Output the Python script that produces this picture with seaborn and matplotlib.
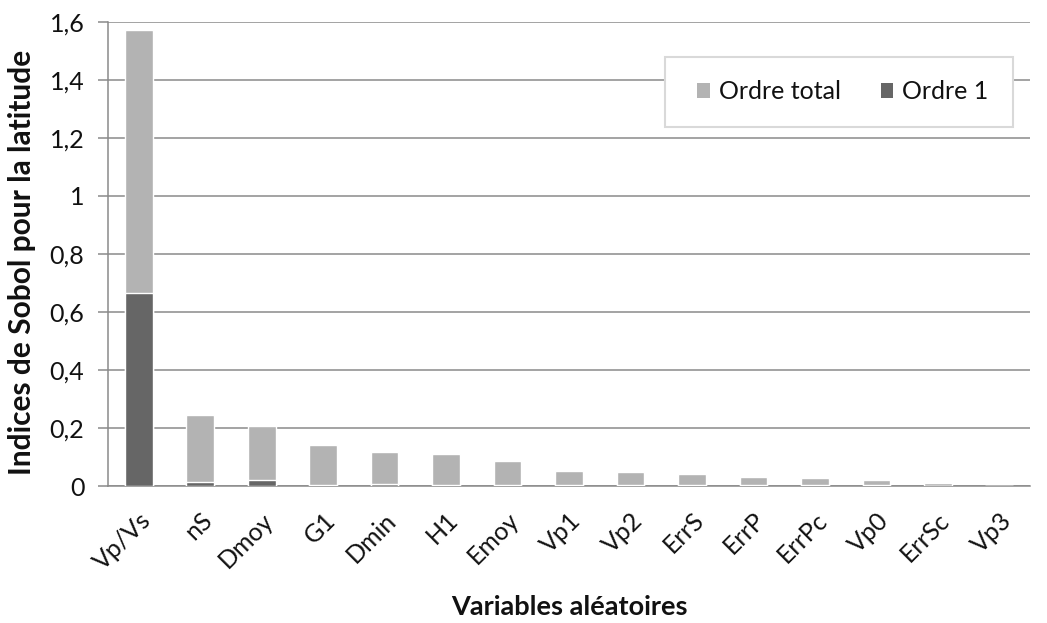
import matplotlib
matplotlib.use("Agg")
import matplotlib.pyplot as plt
import seaborn as sns
import pandas as pd
import numpy as np
from matplotlib.patches import Patch, Rectangle

categories = ["Vp/Vs", "nS", "Dmoy", "G1", "Dmin", "H1", "Emoy", "Vp1", "Vp2",
              "ErrS", "ErrP", "ErrPc", "Vp0", "ErrSc", "Vp3"]
ordre_1 = [0.665, 0.013, 0.021, 0.002, 0.006, 0.004, 0.002, 0.002, 0.004,
           0.005, 0.002, 0.005, 0.002, 0.001, 0.0005]
ordre_total = [0.905, 0.231, 0.185, 0.139, 0.111, 0.106, 0.083, 0.049, 0.045,
               0.036, 0.029, 0.021, 0.020, 0.008, 0.001]
y_ticks = [0, 0.2, 0.4, 0.6, 0.8, 1.0, 1.2, 1.4, 1.6]
y_tick_labels = ["0", "0,2", "0,4", "0,6", "0,8", "1", "1,2", "1,4", "1,6"]

light = "#b3b3b3"
dark = "#666666"
grid_c = "#8a8a8a"
txt_c = "#111111"

sns.set_theme(style="white")
plt.rcParams["font.family"] = ["Lato", "DejaVu Sans"]

df = pd.DataFrame({"cat": categories,
                   "o1": ordre_1,
                   "tot": ordre_total})
df["stack"] = df["o1"] + df["tot"]

fig = plt.figure(figsize=(10.47, 6.23), dpi=100)
ax = fig.add_axes([0.1032, 0.2199, 0.8806, 0.7453])

sns.barplot(data=df, x="cat", y="stack", color=light, saturation=1,
            width=0.45, edgecolor="white", linewidth=1.0, ax=ax, zorder=3)
sns.barplot(data=df, x="cat", y="o1", color=dark, saturation=1,
            width=0.45, edgecolor="white", linewidth=1.0, ax=ax, zorder=4)

ax.set_ylim(0, 1.6)
ax.set_xlim(-0.5, len(categories) - 0.5)
ax.set_yticks(y_ticks)
ax.set_yticklabels(y_tick_labels, fontsize=18, color=txt_c)
ax.set_xticks(range(len(categories)))
ax.set_xticklabels(categories, fontsize=18, rotation=45, ha="right",
                   rotation_mode="anchor", color=txt_c)

ax.yaxis.grid(True, color=grid_c, linewidth=1.1, zorder=0)
ax.set_axisbelow(True)
for s in ["top", "right"]:
    ax.spines[s].set_visible(False)
for s in ["left", "bottom"]:
    ax.spines[s].set_color(grid_c)
    ax.spines[s].set_linewidth(1.1)

ax.tick_params(axis="y", which="major", length=7, width=1.1, color=grid_c,
               direction="out", pad=10, left=True)
ax.tick_params(axis="x", length=0, pad=16)

ax.set_ylabel("Indices de Sobol pour la latitude", fontsize=21.5,
              fontweight="bold", color=txt_c, va="center", ha="center")
ax.yaxis.set_label_coords(-0.0933, 0.481)
ax.set_xlabel("Variables aléatoires", fontsize=19.5, fontweight="bold",
              color=txt_c, va="center", ha="center")
ax.xaxis.set_label_coords(0.5, -0.2606)

# legend box
box = Rectangle((0.6041, 0.7732), 0.3774, 0.1508, transform=ax.transAxes,
                facecolor="white", edgecolor="#d9d9d9", linewidth=1.5,
                zorder=8, clip_on=False)
ax.add_patch(box)

handles = [Patch(facecolor=light, edgecolor="none", label="Ordre total"),
           Patch(facecolor=dark, edgecolor="none", label="Ordre 1")]
leg = ax.legend(handles=handles, loc="center", bbox_to_anchor=(0.797, 0.8486),
                ncol=2, fontsize=18, frameon=False,
                borderpad=0, handlelength=0.5, handleheight=0.5,
                handletextpad=0.35, columnspacing=1.6, borderaxespad=0)
for t in leg.get_texts():
    t.set_color(txt_c)
leg.set_zorder(10)

fig.savefig("out.png", dpi=100, facecolor="white")
